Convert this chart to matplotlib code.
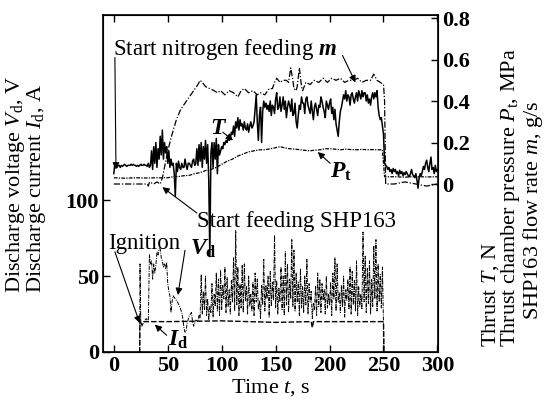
import numpy as np
import matplotlib.pyplot as plt

plt.rcParams['font.family'] = 'Liberation Serif'
plt.rcParams['mathtext.fontset'] = 'custom'
plt.rcParams['mathtext.rm'] = 'Liberation Serif'
plt.rcParams['mathtext.it'] = 'Liberation Serif:italic'
plt.rcParams['mathtext.bf'] = 'Liberation Serif:bold'
plt.rcParams['mathtext.bfit'] = 'Liberation Serif:italic:bold'

# --- thrust T [N], 1 s step from t = 0 to 300 ---
T_start = 0
T_vals = [
    0.05, 0.10, 0.09, 0.08, 0.09, 0.09, 0.08, 0.09, 0.085, 0.09,
    0.095, 0.09, 0.085, 0.09, 0.09, 0.09, 0.095, 0.09, 0.095, 0.09,
    0.09, 0.085, 0.09, 0.085, 0.09, 0.095, 0.09, 0.09, 0.095, 0.09,
    0.09, 0.085, 0.10, 0.08, 0.09, 0.16, 0.07, 0.18, 0.10, 0.20,
    0.08, 0.17, 0.12, 0.23, 0.14, 0.26, 0.12, 0.20, 0.15, 0.18,
    0.10, 0.16, 0.08, 0.12, 0.09, 0.10, 0.05, -0.06, 0.10, 0.06,
    0.11, 0.08, 0.07, 0.10, 0.08, 0.08, 0.12, 0.09, 0.07, 0.10,
    0.10, 0.09, 0.08, 0.11, 0.12, 0.09, 0.10, 0.17, 0.09, 0.19,
    0.11, 0.20, 0.08, 0.18, 0.12, 0.21, 0.10, 0.19, 0.02, -0.35,
    0.15, 0.20, 0.08, 0.20, 0.12, 0.22, 0.05, 0.19, 0.14, 0.16,
    0.18, 0.17, 0.20, 0.19, 0.21, 0.20, 0.23, 0.21, 0.22, 0.25,
    0.24, 0.28, 0.23, 0.30, 0.27, 0.32, 0.26, 0.31, 0.28, 0.29,
    0.26, 0.30, 0.27, 0.26, 0.29, 0.25, 0.28, 0.30, 0.27, 0.28,
    0.30, 0.36, 0.43, 0.30, 0.21, 0.33, 0.37, 0.20, 0.35, 0.40,
    0.37, 0.39, 0.36, 0.38, 0.35, 0.40, 0.33, 0.38, 0.37, 0.34,
    0.41, 0.44, 0.36, 0.37, 0.42, 0.35, 0.38, 0.42, 0.36, 0.40,
    0.32, 0.37, 0.40, 0.38, 0.35, 0.41, 0.33, 0.34, 0.39, 0.30,
    0.27, 0.33, 0.38, 0.36, 0.42, 0.39, 0.39, 0.34, 0.41, 0.42,
    0.38, 0.36, 0.34, 0.40, 0.35, 0.31, 0.37, 0.39, 0.36, 0.33,
    0.38, 0.37, 0.42, 0.40, 0.37, 0.35, 0.32, 0.40, 0.38, 0.36,
    0.39, 0.41, 0.34, 0.37, 0.31, 0.36, 0.29, 0.26, 0.23, 0.30,
    0.35, 0.37, 0.40, 0.43, 0.41, 0.45, 0.40, 0.43, 0.42, 0.38,
    0.43, 0.44, 0.41, 0.39, 0.42, 0.44, 0.40, 0.45, 0.43, 0.41,
    0.45, 0.42, 0.44, 0.44, 0.40, 0.43, 0.39, 0.41, 0.38, 0.42,
    0.44, 0.41, 0.44, 0.42, 0.45, 0.37, 0.33, 0.31, 0.32, 0.28,
    0.24, 0.10, 0.09, 0.085, 0.07, 0.08, 0.06, 0.07, 0.05, 0.075,
    0.06, 0.07, 0.05, 0.06, 0.04, 0.066, 0.05, 0.06, 0.04, 0.055,
    0.045, 0.06, 0.05, 0.04, 0.035, 0.05, 0.07, 0.045, 0.04, 0.03,
    0.05, 0.02, -0.02, 0.03, 0.05, 0.04, 0.06, 0.085, 0.07, 0.10,
    0.115, 0.08, 0.06, 0.10, 0.13, 0.07, 0.08, 0.05, 0.09, 0.06,
    0.07,
]

# --- SHP163 flow rate m [g/s] (t, value) ---
m_pts = [
    (0, 0.0), (31, 0.0), (32, -0.01), (33, 0.01), (37, 0.0), (40, 0.01), (43, 0.0),
    (45, 0.03), (47, 0.08), (50, 0.16), (54, 0.24), (58, 0.31), (62, 0.36), (66, 0.39),
    (70, 0.42), (74, 0.45), (78, 0.48), (80, 0.50), (82, 0.49), (85, 0.47), (89, 0.46),
    (93, 0.45), (96, 0.44), (99, 0.45), (103, 0.43), (107, 0.45), (111, 0.44), (115, 0.42),
    (118, 0.45), (121, 0.46), (125, 0.44), (129, 0.45), (133, 0.43), (136, 0.44), (140, 0.43),
    (144, 0.46), (147, 0.46), (149, 0.49), (151, 0.51), (154, 0.49), (157, 0.50), (160, 0.50),
    (162, 0.49), (164, 0.56), (166, 0.50), (167, 0.46), (169, 0.45), (170, 0.47), (172, 0.56),
    (174, 0.47), (175, 0.45), (178, 0.49), (182, 0.48), (186, 0.50), (190, 0.49), (194, 0.51),
    (198, 0.49), (202, 0.51), (206, 0.50), (210, 0.51), (214, 0.49), (218, 0.50), (222, 0.50),
    (226, 0.51), (230, 0.49), (234, 0.50), (238, 0.50), (241, 0.53), (244, 0.50), (247, 0.49),
    (250, 0.48), (251, 0.40), (252, 0.0), (260, 0.0), (270, 0.01), (280, 0.0), (290, -0.01),
    (300, 0.0),
]

# --- thrust chamber pressure Pt [MPa] (t, value) ---
Pt_pts = [
    (0, 0.03), (10, 0.028), (20, 0.03), (30, 0.029), (40, 0.03), (50, 0.03), (55, 0.035),
    (60, 0.036), (65, 0.04), (70, 0.042), (75, 0.05), (80, 0.055), (85, 0.065), (90, 0.07),
    (95, 0.08), (100, 0.095), (105, 0.11), (110, 0.12), (115, 0.135), (120, 0.145),
    (125, 0.155), (130, 0.16), (135, 0.165), (140, 0.165), (145, 0.17), (150, 0.175),
    (154, 0.18), (158, 0.175), (163, 0.17), (168, 0.168), (173, 0.165), (178, 0.162),
    (182, 0.16), (186, 0.163), (191, 0.165), (196, 0.17), (200, 0.17), (205, 0.168),
    (210, 0.165), (215, 0.168), (220, 0.166), (225, 0.165), (230, 0.167), (235, 0.165),
    (240, 0.166), (245, 0.165), (249, 0.165), (251, 0.035), (260, 0.035), (270, 0.033),
    (280, 0.036), (290, 0.034), (300, 0.035),
]

# --- discharge current Id [A] (t, value) ---
Id_pts = [
    (23, 0), (24, 0), (24.2, 20), (26, 18), (28, 20), (50, 20), (100, 20.5), (150, 19.5),
    (183, 20), (184, 16), (185, 20), (200, 20), (250, 20), (250.3, 0),
]

# --- discharge voltage Vd [V]: start-up part (t, value) ---
Vd_early = [
    (23, 0), (24, 0), (24.3, 58), (25, 20), (26, 17), (28, 20), (30, 22), (32, 20),
    (33, 64), (34, 58), (35, 60), (36, 48), (37, 58), (38, 52), (39, 57), (40, 66),
    (41, 64), (42, 68), (43, 68), (44, 62), (45, 60), (46, 56), (47, 58), (48, 55),
    (49, 59), (50, 45), (51, 40), (52, 37), (53, 26), (54, 33), (55, 37), (56, 36),
    (58, 34), (59, 33), (61, 30), (63, 26), (64, 22), (65, 16), (66, 13), (67, 14),
    (68, 19), (70, 24), (72, 26), (73, 20), (74, 17), (76, 21), (78, 20), (79, 24),
]
# steady part, 1 s step from t = 80 to 250
Vd_start = 80
Vd_steady = [
    22, 51, 25, 40, 28, 50, 24, 35, 21, 30,
    26, 45, 23, 38, 30, 52, 27, 48, 24, 54,
    28, 44, 35, 56, 26, 49, 30, 41, 25, 47,
    33, 62, 27, 80, 31, 56, 24, 45, 29, 57,
    26, 58, 34, 43, 25, 50, 30, 38, 27, 46,
    24, 52, 33, 48, 28, 34, 22, 44, 31, 61,
    27, 44, 35, 50, 23, 53, 30, 46, 34, 77,
    29, 47, 25, 42, 33, 56, 28, 50, 24, 66,
    31, 58, 26, 48, 35, 74, 30, 67, 27, 52,
    33, 46, 24, 55, 29, 43, 26, 50, 31, 61,
    25, 45, 33, 40, 22, 32, 28, 43, 24, 52,
    30, 48, 26, 45, 34, 41, 25, 50, 29, 38,
    31, 46, 24, 52, 35, 62, 27, 58, 33, 39,
    26, 44, 30, 50, 23, 41, 34, 48, 28, 56,
    25, 53, 31, 47, 27, 60, 24, 43, 30, 38,
    28, 79, 33, 63, 26, 55, 32, 60, 25, 48,
    30, 70, 35, 74, 27, 58, 33, 51, 29, 56,
    20,
]
Vd_end = [(250.5, 0)]

T_t = T_start + np.arange(len(T_vals))
m_t, m_v = np.array(m_pts).T
Pt_t, Pt_v = np.array(Pt_pts).T
Id_t, Id_v = np.array(Id_pts).T
Vd_t = np.concatenate([np.array(Vd_early)[:, 0], Vd_start + np.arange(len(Vd_steady)),
                       np.array(Vd_end)[:, 0]])
Vd_v = np.concatenate([np.array(Vd_early)[:, 1], Vd_steady, np.array(Vd_end)[:, 1]])

fig = plt.figure(figsize=(5.59, 4.03), dpi=100)
ax1 = fig.add_axes([0.1843, 0.1266, 0.5992, 0.8362])
ax2 = ax1.twinx()

ax1.plot(Vd_t, Vd_v, color='black', lw=0.7, linestyle=(0, (4, 1.2, 1, 1.2)))
ax1.plot(Id_t, Id_v, color='black', lw=1.0, linestyle=(0, (4, 1.5)))

ax2.plot(T_t, T_vals, color='black', lw=1.1)
ax2.plot(m_t, m_v, color='black', lw=0.9, linestyle=(0, (5, 1.5, 1, 1.5)))
ax2.plot(Pt_t, Pt_v, color='black', lw=0.9, linestyle=(0, (3, 1, 1, 1)))

ax1.set_xlim(-10, 300.5)
ax1.set_ylim(0, 222)
ax2.set_ylim(-0.81, 0.815)
ax1.set_xticks(range(0, 301, 50))
ax1.set_yticks([0, 50, 100])
ax2.set_yticks([0, 0.2, 0.4, 0.6, 0.8])
ax2.set_yticklabels(['0', '0.2', '0.4', '0.6', '0.8'])

ax1.tick_params(direction='in', top=True, length=5, width=1, labelsize=16, pad=3)
ax2.tick_params(direction='in', length=5, width=1, labelsize=16, pad=3)
for lbl in ax1.get_xticklabels() + ax1.get_yticklabels() + ax2.get_yticklabels():
    lbl.set_fontweight('bold')
for sp in ax1.spines.values():
    sp.set_linewidth(1.2)

ax1.set_xlabel('Time $t$, s', fontsize=16, labelpad=1)

fig.text(16 / 559, 1 - 293 / 403, r'Discharge voltage $V_\mathrm{d}$, V', rotation=90,
         ha='center', va='bottom', fontsize=16)
fig.text(37 / 559, 1 - 293 / 403, r'Discharge current $I_\mathrm{d}$, A', rotation=90,
         ha='center', va='bottom', fontsize=16)
fig.text(491 / 559, 1 - 347 / 403, r'Thrust $T$, N', rotation=90,
         ha='center', va='bottom', fontsize=16)
fig.text(511 / 559, 1 - 347 / 403, r'Thrust chamber pressure $P_\mathrm{t}$, MPa', rotation=90,
         ha='center', va='bottom', fontsize=16)
fig.text(533 / 559, 1 - 320 / 403, r'SHP163 flow rate $m$, g/s', rotation=90,
         ha='center', va='bottom', fontsize=16)

arr = dict(arrowstyle='-|>', color='black', lw=0.8, mutation_scale=10, shrinkA=0, shrinkB=0)

ax2.text(-1, 0.65, r'Start nitrogen feeding $\mathbfit{m}$', fontsize=16.5, ha='left', va='center')
ax2.annotate('', xy=(2, 0.07), xytext=(1, 0.61), arrowprops=arr)
ax2.annotate('', xy=(224, 0.49), xytext=(212, 0.62), arrowprops=arr)

ax2.text(97.5, 0.27, r'$\mathbfit{T}$', fontsize=17, ha='center', va='center')
ax2.annotate('', xy=(110.5, 0.21), xytext=(101, 0.25), arrowprops=arr)

ax2.text(211, 0.058, r'$\mathbfit{P}_\mathbf{t}$', fontsize=17, ha='center', va='center')
ax2.annotate('', xy=(189, 0.154), xytext=(200.5, 0.10), arrowprops=arr)

ax2.text(77, -0.18, 'Start feeding SHP163', fontsize=16.5, ha='left', va='center')
ax2.annotate('', xy=(45, -0.015), xytext=(77, -0.14), arrowprops=arr)

ax1.text(-5.6, 71.7, 'Ignition', fontsize=16.5, ha='left', va='center')
ax1.annotate('', xy=(24, 19), xytext=(1, 66), arrowprops=arr)

ax1.text(70.6, 68, r'$\mathbfit{V}_\mathbf{d}$', fontsize=17, ha='left', va='center')
ax1.annotate('', xy=(59.4, 37.5), xytext=(66, 67), arrowprops=arr)

ax1.text(50, 8, r'$\mathbfit{I}_\mathbf{d}$', fontsize=17, ha='left', va='center')
ax1.annotate('', xy=(38, 18), xytext=(49, 11), arrowprops=arr)

fig.savefig('out.png', dpi=100)
